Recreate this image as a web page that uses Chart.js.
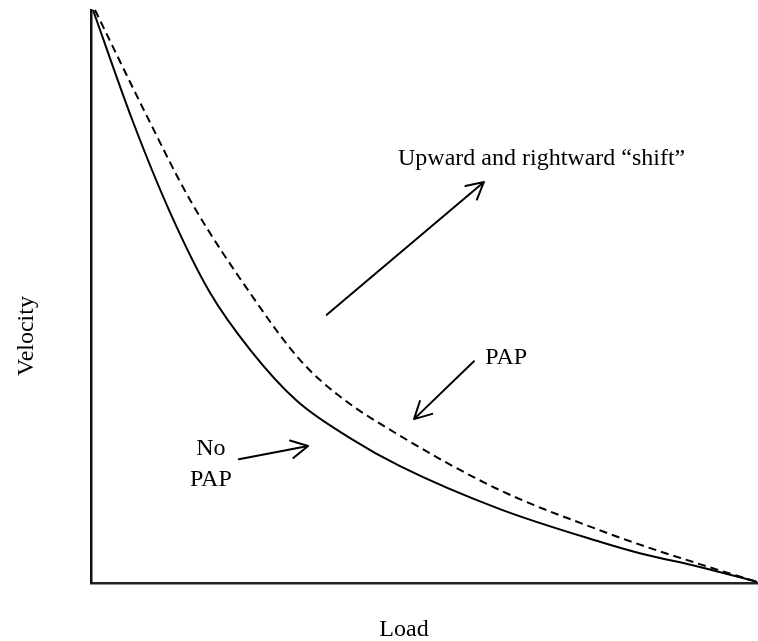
<!DOCTYPE html>
<html>
<head>
<meta charset="utf-8">
<script src="https://cdn.jsdelivr.net/npm/chart.js@4.4.0/dist/chart.umd.min.js"></script>
<style>
  html, body { margin: 0; padding: 0; background: #fff; }
  #wrap { width: 758px; height: 641px; }
</style>
</head>
<body>
<div id="wrap"><canvas id="curve"></canvas></div>
<script>
// Load-velocity curves (load and velocity in % of axis)
var loadNoPap = [0.3, 6.2, 11.9, 17.9, 23.9, 30.9, 38.9, 46.4, 61.4, 76.4, 82.4, 91.4, 100];
var velNoPap  = [100, 80.8, 64.6, 50.6, 40.7, 31.8, 25.3, 20.4, 12.9, 7.2, 5.2, 2.8, 0.2];

var loadPap = [0.6, 8.3, 14.9, 24.6, 31.4, 37.1, 46.4, 61.4, 76.4, 82.9, 91.4, 100];
var velPap  = [100, 81.7, 66.8, 49.4, 38.9, 32.8, 25.7, 16.2, 9.2, 6.5, 3.3, 0.2];

// Annotation arrows: [fromLoad, fromVel, toLoad, toVel]
var arrowShift = [35.4, 46.8, 59.0, 70.0];
var arrowPap   = [57.5, 38.7, 48.5, 28.6];
var arrowNoPap = [22.2, 21.6, 32.6, 23.9];

// Annotation texts: [text, load, vel, align]
var notes = [
    ["Upward and rightward \u201Cshift\u201D", 46.1, 72.9, "left"],
    ["PAP", 59.2, 38.2, "left"],
    ["No", 18.0, 22.3, "center"],
    ["PAP", 18.0, 16.9, "center"]
];

var xTitle = "Load";
var yTitle = "Velocity";

function toPoints(xs, ys) {
    return xs.map(function (x, i) { return {x: x, y: ys[i]}; });
}

var FONT = '24px "Liberation Serif", "Times New Roman", serif';

// Arrows, texts and axis titles
var notesPlugin = {
    id: 'notes',
    afterDatasetsDraw: function (chart) {
        var ctx = chart.ctx;
        var xs = chart.scales.x, ys = chart.scales.y;
        var area = chart.chartArea;

        function arrow(a) {
            var x1 = xs.getPixelForValue(a[0]), y1 = ys.getPixelForValue(a[1]);
            var x2 = xs.getPixelForValue(a[2]), y2 = ys.getPixelForValue(a[3]);
            var ang = Math.atan2(y2 - y1, x2 - x1);
            var len = 19, spread = 28 * Math.PI / 180;
            ctx.beginPath();
            ctx.moveTo(x1, y1);
            ctx.lineTo(x2, y2);
            ctx.moveTo(x2 - len * Math.cos(ang - spread), y2 - len * Math.sin(ang - spread));
            ctx.lineTo(x2, y2);
            ctx.lineTo(x2 - len * Math.cos(ang + spread), y2 - len * Math.sin(ang + spread));
            ctx.stroke();
        }

        ctx.save();
        ctx.strokeStyle = '#000';
        ctx.lineWidth = 2;
        ctx.lineCap = 'round';
        ctx.lineJoin = 'round';
        arrow(arrowShift);
        arrow(arrowPap);
        arrow(arrowNoPap);

        ctx.fillStyle = '#000';
        ctx.font = FONT;
        ctx.textBaseline = 'alphabetic';
        notes.forEach(function (n) {
            ctx.textAlign = n[3];
            ctx.fillText(n[0], xs.getPixelForValue(n[1]), ys.getPixelForValue(n[2]));
        });

        // axis titles
        ctx.textAlign = 'center';
        ctx.fillText(xTitle, xs.getPixelForValue(47.0), area.bottom + 53);
        ctx.save();
        ctx.translate(area.left - 58, ys.getPixelForValue(43.1));
        ctx.rotate(-Math.PI / 2);
        ctx.fillText(yTitle, 0, 0);
        ctx.restore();
        ctx.restore();
    }
};

var ctx1 = document.getElementById('curve').getContext('2d');
var myChart = new Chart(ctx1, {
    type: 'scatter',
    data: {
        datasets: [{
                label: 'No PAP',
                data: toPoints(loadNoPap, velNoPap),
                showLine: true,
                borderColor: '#000',
                borderWidth: 2,
                pointRadius: 0,
                cubicInterpolationMode: 'monotone',
                clip: false
            },
            {
                label: 'PAP',
                data: toPoints(loadPap, velPap),
                showLine: true,
                borderColor: '#000',
                borderWidth: 2,
                borderDash: [8, 5],
                pointRadius: 0,
                cubicInterpolationMode: 'monotone',
                clip: false
            }
        ]
    },
    options: {
        responsive: true,
        maintainAspectRatio: false,
        animation: false,
        layout: {
            padding: {left: 83, top: 10, right: 1, bottom: 50}
        },
        plugins: {
            legend: {display: false},
            tooltip: {enabled: false}
        },
        scales: {
            x: {
                type: 'linear',
                min: 0,
                max: 100,
                grid: {display: false},
                ticks: {display: false},
                border: {display: true, color: '#222', width: 2.5}
            },
            y: {
                type: 'linear',
                min: 0,
                max: 100,
                grid: {display: false},
                ticks: {display: false},
                border: {display: true, color: '#111', width: 2.5}
            }
        }
    },
    plugins: [notesPlugin]
});
</script>
</body>
</html>
